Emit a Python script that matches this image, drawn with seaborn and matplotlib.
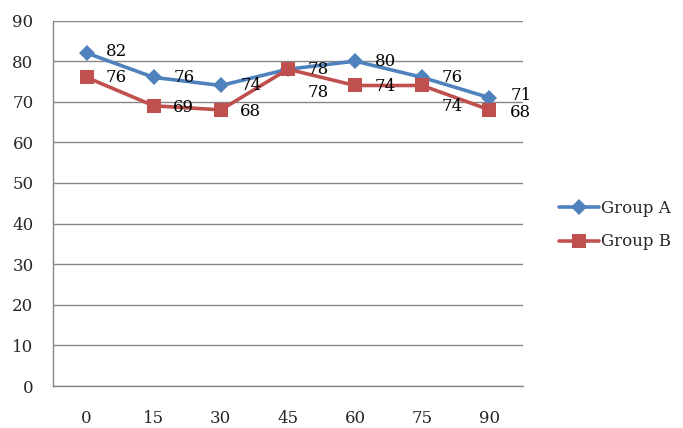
import pandas as pd
import matplotlib
matplotlib.use("Agg")
import matplotlib.pyplot as plt
import seaborn as sns
from matplotlib.ticker import MultipleLocator, FixedLocator
from matplotlib.lines import Line2D

# ================= DATOS =================
categorias = ["0", "15", "30", "45", "60", "75", "90"]
grupo_a = [82, 76, 74, 78, 80, 76, 71]
grupo_b = [76, 69, 68, 78, 74, 74, 68]
series = {"Group A": grupo_a, "Group B": grupo_b}

# desplazamiento de etiquetas (puntos) como lo hace Excel
offsets = {
    "Group A": [(14, 1), (14, 0), (14, 0), (14, 0), (14, 0), (14, 0), (15, 1.5)],
    "Group B": [(14, 0), (14, -1), (14, -1), (14, -17), (14, -1), (14, -15), (15, -2)],
}
colores = {"Group A": "#4F81BD", "Group B": "#C0504D"}
marcadores = {"Group A": "D", "Group B": "s"}
tam_marcador = {"Group A": 8.5, "Group B": 9.5}

filas = []
for nombre, vals in series.items():
    for i, v in enumerate(vals):
        filas.append({"pos": i, "valor": v, "grupo": nombre})
df = pd.DataFrame(filas)

# ================= FIGURA =================
sns.set_style("white")
plt.rcParams["font.family"] = ["DejaVu Serif"]
fig = plt.figure(figsize=(6.83, 4.28), dpi=100)
ax = fig.add_axes([0.0776, 0.0981, 0.688, 0.854])

sns.lineplot(data=df, x="pos", y="valor", hue="grupo", style="grupo",
             palette=colores, markers=marcadores, dashes=False,
             linewidth=2.6, markersize=8.5, markeredgewidth=0,
             ax=ax, legend=False)
# cuadrado un poco mas grande
for ln in ax.lines:
    if ln.get_marker() == "s":
        ln.set_markersize(tam_marcador["Group B"])

for nombre, vals in series.items():
    for i, v in enumerate(vals):
        ax.annotate(str(v), (i, v), xytext=offsets[nombre][i],
                    textcoords="offset points", ha="left", va="center",
                    fontsize=12, color="black")

ax.set_xlim(-0.5, len(categorias) - 0.5)
ax.set_ylim(0, 90)
ax.yaxis.set_major_locator(MultipleLocator(10))
ax.set_xticks(range(len(categorias)))
ax.set_xticklabels(categorias)
ax.xaxis.set_minor_locator(FixedLocator([i - 0.5 for i in range(len(categorias) + 1)]))
ax.tick_params(axis="x", which="major", length=0, pad=17, labelsize=12)
ax.tick_params(axis="x", which="minor", length=5, width=1, color="#868686", direction="out")
ax.tick_params(axis="y", which="major", length=5, width=1, color="#868686", direction="out",
               pad=9, labelsize=12)
ax.grid(axis="y", color="#868686", linewidth=1)
ax.set_axisbelow(True)
for s in ["top", "right"]:
    ax.spines[s].set_visible(False)
for s in ["left", "bottom"]:
    ax.spines[s].set_color("#868686")
    ax.spines[s].set_linewidth(1)
ax.set_xlabel("")
ax.set_ylabel("")

# leyenda
handles = [Line2D([], [], color=colores[n], marker=marcadores[n], linewidth=2.6,
                  markersize=tam_marcador[n], markeredgewidth=0)
           for n in series]
fig.legend(handles, list(series.keys()), loc="center left", bbox_to_anchor=(0.797, 0.474),
           frameon=False, fontsize=12, handlelength=2.4, handletextpad=0.1,
           labelspacing=1.0)

fig.savefig("out.png", dpi=100)
